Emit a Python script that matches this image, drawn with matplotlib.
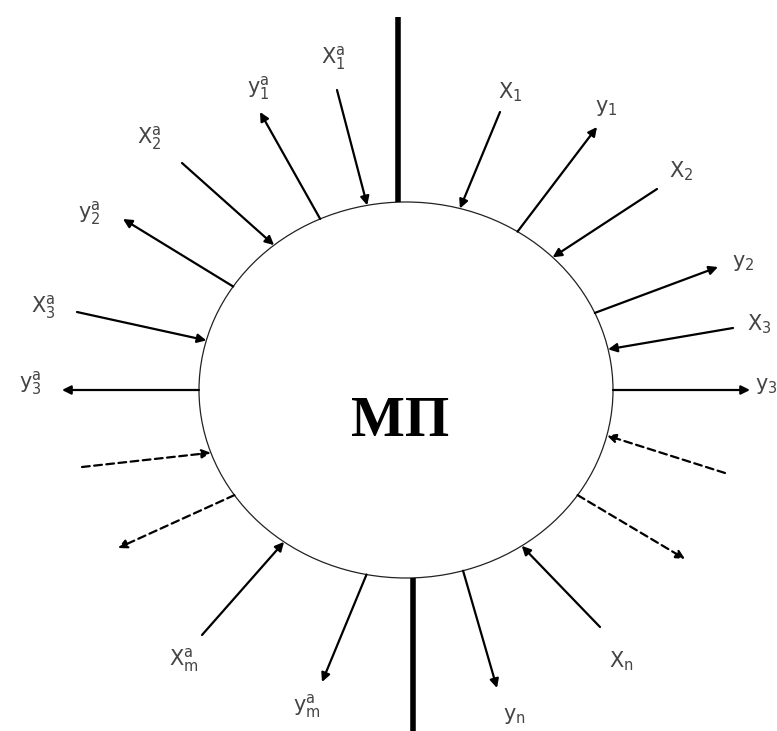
import matplotlib
matplotlib.use("Agg")
import matplotlib.pyplot as plt
import numpy as np
from matplotlib.patches import Ellipse

# ellipse "МП" (pixel space, y grows downward)
center = (406, 390)
semi_axes = (207, 188)

# each flow: label, direction, touch angle on the ellipse (deg), outer end, label position, dashed
labels = [r"$\mathrm{X^{a}_{1}}$", r"$\mathrm{y^{a}_{1}}$", r"$\mathrm{X^{a}_{2}}$",
          r"$\mathrm{y^{a}_{2}}$", r"$\mathrm{X^{a}_{3}}$", r"$\mathrm{y^{a}_{3}}$",
          "", "", r"$\mathrm{X^{a}_{m}}$", r"$\mathrm{y^{a}_{m}}$",
          r"$\mathrm{y_{n}}$", r"$\mathrm{X_{n}}$", "", "",
          r"$\mathrm{y_{3}}$", r"$\mathrm{X_{3}}$", r"$\mathrm{y_{2}}$",
          r"$\mathrm{X_{2}}$", r"$\mathrm{y_{1}}$", r"$\mathrm{X_{1}}$"]
inward = [True, False, True, False, True, False, True, False, True, False,
          False, True, False, True, False, True, False, True, False, True]
dashed = [False] * 6 + [True, True] + [False] * 4 + [True, True] + [False] * 6
touch_angles = [100.8, 114.5, 129.6, 146.6, 164.7, 180.0, 199.5, 214.0, 233.9, 259.0,
                286.0, 304.0, 326.0, 346.0, 0.0, 12.5, 24.2, 44.9, 57.4, 74.9]
outer_x = [337, 260, 182, 123, 77, 62, 82, 118, 202, 322,
           497, 600, 685, 725, 750, 733, 718, 657, 597, 500]
outer_y = [90, 112, 163, 219, 312, 390, 467, 548, 635, 682,
           688, 627, 559, 473, 390, 328, 267, 189, 127, 112]
label_x = [333, 258, 149, 89, 43, 30, 0, 0, 184, 307,
           514, 621, 0, 0, 766, 759, 743, 681, 606, 510]
label_y = [58, 88, 138, 213, 307, 383, 0, 0, 660, 706,
           716, 661, 0, 0, 386, 324, 263, 171, 108, 92]

# thick vertical bars above and below
bar_x = [398, 413]
bar_far_y = [17, 731]


def ellipse_point(t_deg):
    t = np.radians(t_deg)
    return center[0] + semi_axes[0] * np.cos(t), center[1] - semi_axes[1] * np.sin(t)


fig = plt.figure(figsize=(7.77, 7.31), dpi=100)
ax = fig.add_axes([0, 0, 1, 1])
ax.set_xlim(0, 777)
ax.set_ylim(731, 0)
ax.axis("off")

ax.add_patch(Ellipse(center, 2 * semi_axes[0], 2 * semi_axes[1],
                     fill=False, lw=0.9, color="#222222"))

for x, far_y in zip(bar_x, bar_far_y):
    dy = (x - center[0]) / semi_axes[0]
    near_y = center[1] + np.sign(far_y - center[1]) * semi_axes[1] * np.sqrt(1 - dy ** 2)
    ax.plot([x, x], [near_y, far_y], color="black", lw=4, solid_capstyle="butt")

for i in range(len(labels)):
    on_edge = ellipse_point(touch_angles[i])
    far = (outer_x[i], outer_y[i])
    head, tail = (on_edge, far) if inward[i] else (far, on_edge)
    ax.annotate("", xy=head, xytext=tail,
                arrowprops=dict(arrowstyle="-|>", color="black", lw=1.6,
                                mutation_scale=13, shrinkA=0, shrinkB=0,
                                linestyle=(0, (3.5, 2)) if dashed[i] else "-"))
    if labels[i]:
        ax.text(label_x[i], label_y[i], labels[i], fontsize=15, color="#444444",
                ha="center", va="center")

ax.text(400, 422, "МП", fontsize=41, fontweight="bold", family="Liberation Serif",
        ha="center", va="center", color="black")

fig.savefig("out.png", dpi=100)
